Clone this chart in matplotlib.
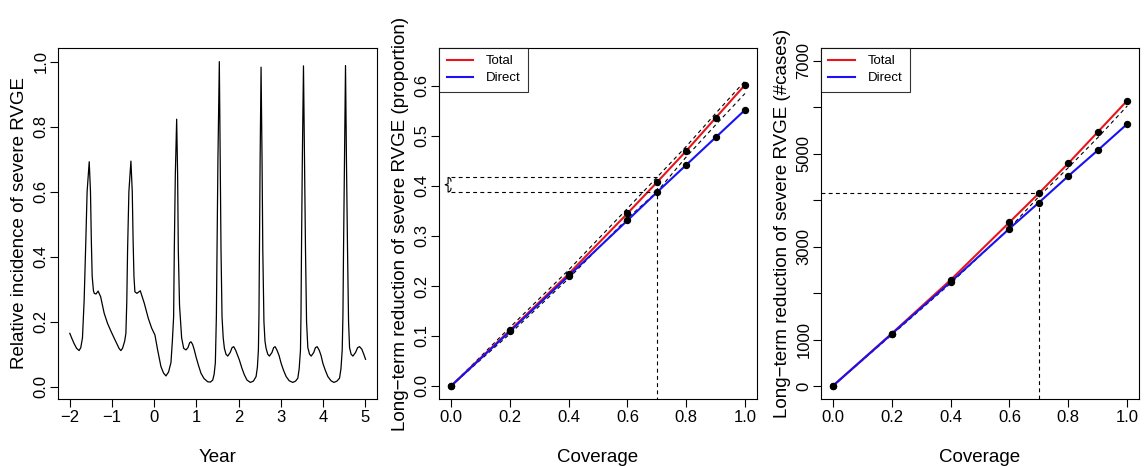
import numpy as np
import matplotlib
matplotlib.use("Agg")
import matplotlib.pyplot as plt

plt.rcParams.update({
    "font.family": ["Liberation Sans", "DejaVu Sans"],
    "axes.linewidth": 0.8,
    "xtick.major.width": 0.8,
    "ytick.major.width": 0.8,
    "xtick.major.size": 5.5,
    "ytick.major.size": 5.5,
    "xtick.major.pad": 2.5,
    "ytick.major.pad": 1.5,
    "xtick.labelsize": 12,
    "ytick.labelsize": 12,
})

# Panel 1: relative incidence of severe RVGE over time
year = [-2.00, -1.95, -1.90, -1.84, -1.78, -1.74, -1.70, -1.66, -1.637, -1.62,
        -1.59, -1.54, -1.51, -1.49, -1.47, -1.44, -1.42, -1.38, -1.33, -1.27,
        -1.186, -1.107, -1.03, -0.948, -0.87, -0.83, -0.79, -0.75, -0.70, -0.671,
        -0.65, -0.631, -0.60, -0.552, -0.52, -0.50, -0.48, -0.458, -0.41, -0.33,
        -0.236, -0.14, -0.06, 0.017, 0.081, 0.159, 0.22, 0.278, 0.34, 0.397,
        0.43, 0.46, 0.476, 0.50, 0.532, 0.555, 0.571, 0.60, 0.618, 0.65,
        0.698, 0.752, 0.80, 0.84, 0.871, 0.91, 0.95, 0.99, 1.05, 1.109,
        1.18, 1.267, 1.33, 1.386, 1.42, 1.449, 1.473, 1.488, 1.51, 1.543,
        1.565, 1.583, 1.607, 1.635, 1.663, 1.70, 1.742, 1.80, 1.845, 1.884,
        1.93, 1.975, 2.018, 2.075, 2.137, 2.20, 2.28, 2.35, 2.414, 2.445,
        2.469, 2.482, 2.493, 2.51, 2.532, 2.555, 2.573, 2.60, 2.625, 2.651,
        2.69, 2.73, 2.79, 2.83, 2.865, 2.91, 2.96, 3.007, 3.065, 3.126,
        3.20, 3.284, 3.35, 3.403, 3.435, 3.466, 3.478, 3.49, 3.51, 3.537,
        3.56, 3.585, 3.61, 3.64, 3.68, 3.719, 3.78, 3.82, 3.861, 3.91,
        3.955, 3.996, 4.055, 4.115, 4.19, 4.258, 4.33, 4.391, 4.425, 4.455,
        4.472, 4.486, 4.51, 4.533, 4.555, 4.581, 4.605, 4.629, 4.665, 4.708,
        4.77, 4.82, 4.866, 4.92, 4.965, 5.008]
incidence = [0.164, 0.148, 0.133, 0.118, 0.111, 0.120, 0.150, 0.266, 0.369, 0.45,
             0.60, 0.692, 0.60, 0.45, 0.34, 0.295, 0.287, 0.285, 0.294, 0.277,
             0.226, 0.195, 0.172, 0.149, 0.128, 0.117, 0.111, 0.118, 0.140, 0.164,
             0.26, 0.42, 0.60, 0.694, 0.60, 0.45, 0.34, 0.292, 0.287, 0.295,
             0.257, 0.210, 0.180, 0.159, 0.113, 0.062, 0.042, 0.033, 0.045, 0.074,
             0.14, 0.215, 0.42, 0.65, 0.823, 0.65, 0.42, 0.25, 0.215, 0.150,
             0.118, 0.113, 0.120, 0.135, 0.138, 0.130, 0.113, 0.092, 0.065, 0.041,
             0.025, 0.015, 0.014, 0.020, 0.038, 0.074, 0.215, 0.42, 0.70, 1.0,
             0.70, 0.42, 0.215, 0.150, 0.118, 0.100, 0.094, 0.105, 0.120, 0.123,
             0.112, 0.097, 0.082, 0.058, 0.036, 0.020, 0.013, 0.017, 0.031, 0.060,
             0.113, 0.22, 0.42, 0.70, 0.983, 0.70, 0.42, 0.20, 0.140, 0.118,
             0.100, 0.094, 0.105, 0.120, 0.123, 0.112, 0.095, 0.072, 0.050, 0.031,
             0.018, 0.013, 0.017, 0.026, 0.055, 0.113, 0.22, 0.42, 0.70, 0.987,
             0.70, 0.42, 0.20, 0.120, 0.100, 0.094, 0.105, 0.120, 0.123, 0.112,
             0.095, 0.072, 0.050, 0.031, 0.018, 0.013, 0.017, 0.026, 0.055, 0.113,
             0.22, 0.42, 0.70, 0.988, 0.70, 0.42, 0.20, 0.120, 0.100, 0.094,
             0.105, 0.120, 0.123, 0.115, 0.100, 0.084]

# Panels 2 and 3: reduction vs coverage
coverage = [0.0, 0.2, 0.4, 0.6, 0.7, 0.8, 0.9, 1.0]
total_prop = [0.0, 0.111, 0.224, 0.345, 0.407, 0.470, 0.536, 0.602]
direct_prop = [0.0, 0.109, 0.220, 0.331, 0.387, 0.442, 0.497, 0.552]
upper_prop = [0.0, 0.117, 0.232, 0.355, 0.417, 0.479, 0.545, 0.610]
lower_prop = [0.0, 0.104, 0.215, 0.335, 0.388, 0.458, 0.522, 0.585]

total_cases = [0, 1128, 2283, 3526, 4151, 4797, 5471, 6147]
direct_cases = [0, 1120, 2238, 3390, 3950, 4523, 5077, 5644]
dashed_cases = [0, 1100, 2210, 3400, 4080, 4704, 5350, 6031]

target_cov = 0.7
RED, BLUE = "#e8141b", "#1a12f0"
DASH = (0, (3.5, 3))

fig = plt.figure(figsize=(11.46, 4.66), dpi=100)
ax1 = fig.add_axes([0.0506, 0.1438, 0.2784, 0.7532])
ax2 = fig.add_axes([0.3833, 0.1438, 0.2770, 0.7532])
ax3 = fig.add_axes([0.7164, 0.1438, 0.2775, 0.7532])

# ---- panel 1
ax1.plot(year, incidence, color="black", lw=0.9)
ax1.set_xlim(-2.28, 5.28)
ax1.set_ylim(-0.038, 1.042)
ax1.set_xticks(range(-2, 6))
ax1.set_yticks([0.0, 0.2, 0.4, 0.6, 0.8, 1.0])
ax1.set_yticklabels(["0.0", "0.2", "0.4", "0.6", "0.8", "1.0"], rotation=90, va="center")
ax1.set_xlabel("Year", fontsize=13.5, labelpad=17)
ax1.set_ylabel("Relative incidence of severe RVGE", fontsize=13.5, labelpad=4)


def cov_axes(ax):
    ax.set_xlim(-0.04, 1.04)
    ax.set_xticks([0.0, 0.2, 0.4, 0.6, 0.8, 1.0])
    ax.set_xticklabels(["0.0", "0.2", "0.4", "0.6", "0.8", "1.0"])
    ax.set_xlabel("Coverage", fontsize=13.5, labelpad=17)
    leg = ax.legend(loc="upper left", fontsize=9.5, frameon=True, fancybox=False,
                    borderaxespad=0, handlelength=2.0, handletextpad=1.0,
                    borderpad=0.55, labelspacing=0.35)
    leg.get_frame().set_edgecolor("black")
    leg.get_frame().set_linewidth(0.8)


# ---- panel 2
i7 = coverage.index(target_cov)
ax2.plot(coverage, upper_prop, color="black", lw=0.8, ls=DASH)
ax2.plot(coverage, lower_prop, color="black", lw=0.8, ls=DASH)
ax2.plot(coverage, total_prop, color=RED, lw=1.5, label="Total")
ax2.plot(coverage, direct_prop, color=BLUE, lw=1.5, label="Direct")
ax2.plot(coverage, total_prop, "o", color="black", ms=4.3)
ax2.plot(coverage, direct_prop, "o", color="black", ms=4.3)
hi, lo = upper_prop[i7], lower_prop[i7]
ax2.plot([0, target_cov], [hi, hi], color="black", lw=0.8, ls=DASH)
ax2.plot([0, target_cov], [lo, lo], color="black", lw=0.8, ls=DASH)
ax2.plot([target_cov, target_cov], [-0.03, hi], color="black", lw=0.8, ls=DASH)
# curly brace spanning the interval at the target coverage
mid = (hi + lo) / 2
q = (hi - lo) / 4
t = np.linspace(0, np.pi / 2, 10)
bx = np.concatenate([-0.01 + 0.01 * np.cos(t), [-0.01, -0.02, -0.01], -0.01 + 0.01 * np.sin(t)])
by = np.concatenate([hi - q + q * np.sin(t), [mid + 0.002, mid, mid - 0.002], lo + q - q * np.cos(t)])
ax2.plot(bx, by, color="black", lw=0.8)
ax2.set_ylim(-0.026, 0.676)
ax2.set_yticks([0.0, 0.1, 0.2, 0.3, 0.4, 0.5, 0.6])
ax2.set_yticklabels(["0.0", "0.1", "0.2", "0.3", "0.4", "0.5", "0.6"], rotation=90, va="center")
ax2.set_ylabel("Long\u2212term reduction of severe RVGE (proportion)", fontsize=13.5, labelpad=4)
cov_axes(ax2)

# ---- panel 3
ax3.plot(coverage, dashed_cases, color="black", lw=0.8, ls=DASH)
ax3.plot(coverage, total_cases, color=RED, lw=1.5, label="Total")
ax3.plot(coverage, direct_cases, color=BLUE, lw=1.5, label="Direct")
ax3.plot(coverage, total_cases, "o", color="black", ms=4.3)
ax3.plot(coverage, direct_cases, "o", color="black", ms=4.3)
tc = total_cases[i7]
ax3.plot([-0.04, target_cov], [tc, tc], color="black", lw=0.8, ls=DASH)
ax3.plot([target_cov, target_cov], [-280, tc], color="black", lw=0.8, ls=DASH)
ax3.set_ylim(-280, 7280)
ax3.set_yticks(range(0, 8000, 1000))
ax3.set_yticklabels(["0", "1000", "", "3000", "", "5000", "", "7000"], rotation=90, va="center")
ax3.set_ylabel("Long\u2212term reduction of severe RVGE (#cases)", fontsize=13.5, labelpad=4)
cov_axes(ax3)

fig.savefig("out.png", dpi=100)
